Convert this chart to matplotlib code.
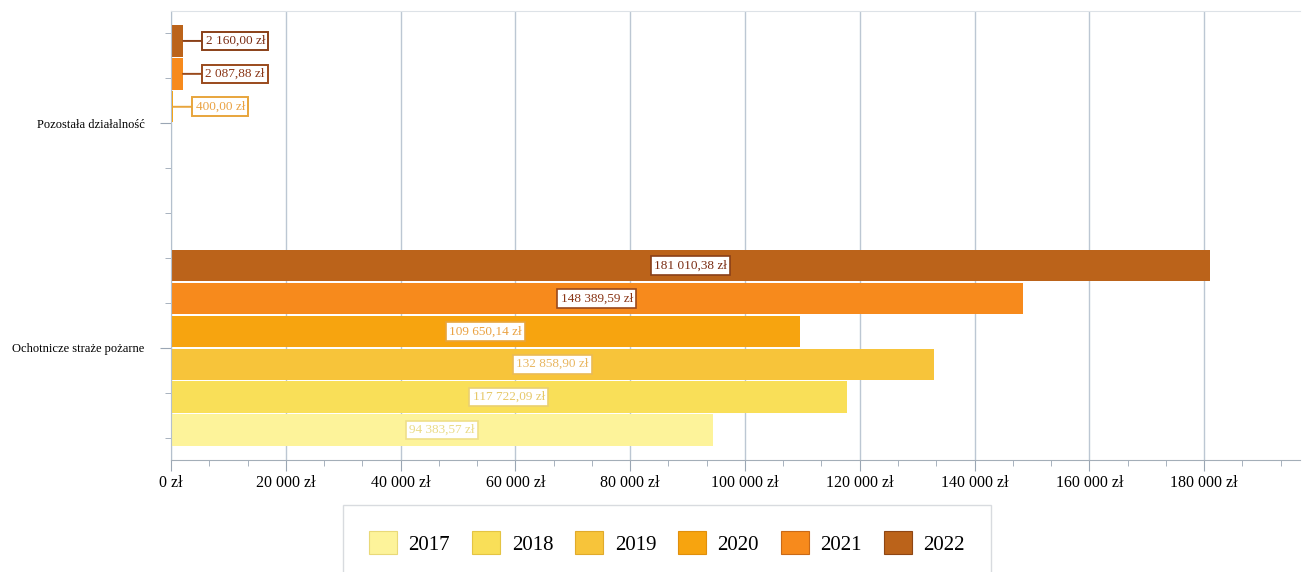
import matplotlib.pyplot as plt
from matplotlib.patches import Patch
from matplotlib.ticker import FuncFormatter, MultipleLocator

plt.rcParams['font.family'] = ['Liberation Serif', 'DejaVu Serif']

# data (zł)
categories = ['Pozostała działalność', 'Ochotnicze straże pożarne']
years = ['2017', '2018', '2019', '2020', '2021', '2022']
pozostala = [0, 0, 0, 400.00, 2087.88, 2160.00]
osp = [94383.57, 117722.09, 132858.90, 109650.14, 148389.59, 181010.38]

bar_colors = ['#fdf39a', '#f9df58', '#f7c43a', '#f7a40f', '#f78a1c', '#bb631a']
edge_colors = ['#e9d978', '#e4c443', '#e0aa2c', '#e08f0c', '#c96a18', '#8e4614']
label_text = ['#eadb86', '#e6c868', '#e8b660', '#eaa242', '#8a3616', '#7a2c12']
label_edge = ['#efdf8a', '#ead070', '#eabb55', '#e8a53c', '#9a4a1c', '#8a4018']


def pln(v, decimals=True):
    if decimals:
        s = f'{v:,.2f}'
    else:
        s = f'{v:,.0f}'
    return s.replace(',', ' ').replace('.', ',') + ' zł'


fig = plt.figure(figsize=(13.1, 5.72), dpi=100)
ax = fig.add_axes([171 / 1310, 1 - 460 / 572, 1129 / 1310, 449 / 572])

h = 0.88 / 6
series = list(zip(pozostala, osp))
for j, year in enumerate(years):
    off = (2.5 - j) * h
    for i, v in enumerate(series[j]):
        if v <= 0:
            continue
        y = i + off
        ax.barh(y, v, height=h * 0.95, color=bar_colors[j], linewidth=0, zorder=2)
        if v > 20000:
            ax.text(v / 2, y, pln(v), ha='center', va='center', fontsize=9.5,
                    color=label_text[j], zorder=4,
                    bbox=dict(boxstyle='square,pad=0.25', fc='white',
                              ec=label_edge[j], lw=1.2))
        else:
            ax.annotate(pln(v), xy=(v, y), xytext=(16, 0),
                        textcoords='offset points', ha='left', va='center',
                        fontsize=9.5, color=label_text[j], zorder=4,
                        bbox=dict(boxstyle='square,pad=0.25', fc='white',
                                  ec=label_edge[j], lw=1.4),
                        arrowprops=dict(arrowstyle='-', color=label_edge[j],
                                        lw=1.4, shrinkA=0, shrinkB=0))

ax.set_xlim(0, 196700)
ax.set_ylim(1.5, -0.5)
ax.set_yticks(range(len(categories)))
ax.set_yticklabels(categories, fontsize=9)
ax.yaxis.set_minor_locator(MultipleLocator(0.2))
ax.xaxis.set_major_locator(MultipleLocator(20000))
ax.xaxis.set_minor_locator(MultipleLocator(20000 / 3))
ax.xaxis.set_major_formatter(FuncFormatter(lambda x, p: pln(x, False)))

ax.tick_params(axis='y', which='major', length=8, color='#9aa6b4', pad=11)
ax.tick_params(axis='y', which='minor', length=4, color='#9aa6b4')
ax.tick_params(axis='x', which='major', length=8, color='#9aa6b4', pad=3,
               labelsize=11.5)
ax.tick_params(axis='x', which='minor', length=4, color='#9aa6b4')

ax.grid(axis='x', which='major', color='#bcc7d3', linewidth=1, zorder=0)
ax.set_axisbelow(True)
ax.spines['right'].set_visible(False)
ax.spines['top'].set_color('#dde2e7')
ax.spines['left'].set_color('#b4c0cd')
ax.spines['bottom'].set_color('#a4aeb8')

handles = [Patch(facecolor=bar_colors[j], edgecolor=edge_colors[j], lw=0.8,
                 label=years[j]) for j in range(len(years))]
leg = fig.legend(handles=handles, ncol=6, loc='upper center',
                 bbox_to_anchor=(667 / 1310, 1 - 505 / 572), fontsize=15,
                 frameon=True, fancybox=False, edgecolor='#cfd3d8',
                 handlelength=1.35, handleheight=1.35, handletextpad=0.55,
                 columnspacing=1.05, borderpad=1.25, borderaxespad=0)
leg.get_frame().set_linewidth(1)

fig.savefig('out.png', dpi=100)
